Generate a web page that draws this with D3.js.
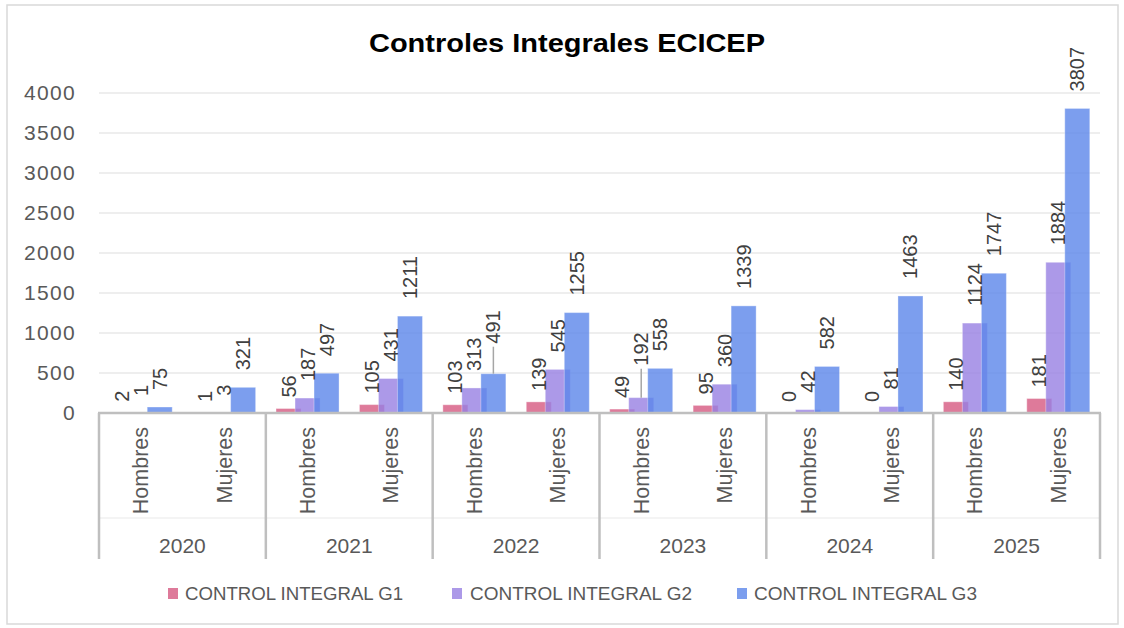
<!DOCTYPE html>
<html>
<head>
<meta charset="utf-8">
<script src="https://cdn.jsdelivr.net/npm/d3@7"></script>
<style>
  html, body { margin: 0; padding: 0; background: #ffffff; }
  svg { display: block; font-family: "Liberation Sans", Arial, sans-serif; }
</style>
</head>
<body>
<svg id="chart" width="1124" height="628"></svg>
<script>
// ---------- data ----------
const years = ["2020", "2021", "2022", "2023", "2024", "2025"];
const sexes = ["Hombres", "Mujeres"];
const seriesNames = ["CONTROL INTEGRAL G1", "CONTROL INTEGRAL G2", "CONTROL INTEGRAL G3"];
// order: 2020 H, 2020 M, 2021 H, 2021 M, ...
const g1Values = [2, 1, 56, 105, 103, 139, 49, 95, 0, 0, 140, 181];
const g2Values = [1, 3, 187, 431, 313, 545, 192, 360, 42, 81, 1124, 1884];
const g3Values = [75, 321, 497, 1211, 491, 1255, 558, 1339, 582, 1463, 1747, 3807];
const yTicks = [0, 500, 1000, 1500, 2000, 2500, 3000, 3500, 4000];
const titleText = "Controles Integrales ECICEP";

// ---------- style / layout ----------
const colors = ["#d65981", "#977fe2", "#5b86ea"];
const barOpacity = 0.8;
const labelGap = [11, 17, 17];
// labels that were dragged up in the original, with a leader line
const leaderLabels = [{ cat: 4, s: 2, lift: 13 }, { cat: 6, s: 1, lift: 15 }];

const svg = d3.select("#chart");
const plot = { left: 99, right: 1100, top: 93, bottom: 413 };

const categories = [];
years.forEach(y => sexes.forEach(s => categories.push({ year: y, sex: s, key: y + "|" + s })));
const seriesValues = [g1Values, g2Values, g3Values];

const x0 = d3.scaleBand().domain(categories.map(d => d.key)).range([plot.left, plot.right]).padding(0);
const x1 = d3.scalePoint().domain(d3.range(seriesNames.length)).range([-19, 19]);
const barW = x0.bandwidth() * 0.30;
const y = d3.scaleLinear().domain([0, 4000]).range([plot.bottom, plot.top]);

// outer frame
svg.append("rect").attr("x", 7).attr("y", 5).attr("width", 1111).attr("height", 619)
  .attr("fill", "#fff").attr("stroke", "#d9d9d9").attr("stroke-width", 1.5);

// title
svg.append("text").attr("x", 567).attr("y", 52).attr("text-anchor", "middle")
  .attr("font-weight", "bold").attr("font-size", 25).attr("fill", "#000")
  .attr("textLength", 396).attr("lengthAdjust", "spacingAndGlyphs")
  .text(titleText);

// gridlines
svg.append("g").selectAll("line").data(yTicks.filter(t => t > 0)).join("line")
  .attr("x1", plot.left).attr("x2", plot.right)
  .attr("y1", d => y(d)).attr("y2", d => y(d))
  .attr("stroke", "#e8e8e8").attr("stroke-width", 1.5);

// y axis
const yAxis = svg.append("g").attr("transform", `translate(${plot.left},0)`)
  .call(d3.axisLeft(y).tickValues(yTicks).tickSize(0).tickPadding(23).tickFormat(d3.format("d")));
yAxis.select(".domain").remove();
yAxis.selectAll("text").attr("font-size", 21).attr("fill", "#595959")
  .attr("font-family", "'Liberation Sans', Arial, sans-serif")
  .style("letter-spacing", "1.3px");

// bars
seriesValues.forEach((vals, s) => {
  svg.append("g").selectAll("rect").data(vals).join("rect")
    .attr("x", (d, i) => x0(categories[i].key) + x0.bandwidth() / 2 + x1(s) - barW / 2)
    .attr("y", d => y(d))
    .attr("width", barW)
    .attr("height", d => y(0) - y(d))
    .attr("fill", colors[s]).attr("fill-opacity", barOpacity)
    .attr("stroke", "#ffffff").attr("stroke-opacity", 0.35).attr("stroke-width", 1);
});

// category axis lines
const axisG = svg.append("g");
axisG.append("line").attr("x1", plot.left).attr("x2", plot.right)
  .attr("y1", 518).attr("y2", 518).attr("stroke", "#f0f0f0").attr("stroke-width", 1.5);
axisG.append("line").attr("x1", plot.left - 1).attr("x2", plot.right + 1)
  .attr("y1", plot.bottom).attr("y2", plot.bottom).attr("stroke", "#bfbfbf").attr("stroke-width", 2.5);
const dividers = years.map(yr => x0(yr + "|" + sexes[0])).concat([plot.right]);
axisG.selectAll("line.div").data(dividers).join("line").attr("class", "div")
  .attr("x1", d => d).attr("x2", d => d).attr("y1", plot.bottom).attr("y2", 559)
  .attr("stroke", "#bfbfbf").attr("stroke-width", 2.5);

// sex labels
svg.append("g").selectAll("text").data(categories).join("text")
  .attr("transform", d => `translate(${x0(d.key) + x0.bandwidth() / 2},427) rotate(-90)`)
  .attr("dy", "0.35em").attr("text-anchor", "end")
  .attr("font-size", 21.5).attr("fill", "#595959").text(d => d.sex);

// year labels
svg.append("g").selectAll("text").data(years).join("text")
  .attr("x", yr => x0(yr + "|" + sexes[0]) + x0.bandwidth())
  .attr("y", 553).attr("text-anchor", "middle")
  .attr("font-size", 21).attr("fill", "#595959").text(yr => yr);

// data labels
seriesValues.forEach((vals, s) => {
  const g = svg.append("g");
  vals.forEach((v, i) => {
    const cx = x0(categories[i].key) + x0.bandwidth() / 2 + x1(s);
    const nudge = leaderLabels.find(l => l.cat === i && l.s === s);
    const lift = nudge ? nudge.lift : 0;
    const ly = y(v) - labelGap[s] - lift;
    if (nudge) {
      g.append("line").attr("x1", cx).attr("x2", cx).attr("y1", y(v)).attr("y2", ly + 3)
        .attr("stroke", "#a6a6a6").attr("stroke-width", 1.5);
    }
    g.append("text").attr("transform", `translate(${cx},${ly}) rotate(-90)`)
      .attr("dy", "0.35em").attr("text-anchor", "start")
      .attr("font-size", 20).attr("fill", "#404040").text(v);
  });
});

// legend
const legendItems = [
  { sx: 168, tx: 185, tl: 218 },
  { sx: 452, tx: 470, tl: 222 },
  { sx: 737, tx: 754, tl: 223 }
];
const lg = svg.append("g");
seriesNames.forEach((name, s) => {
  lg.append("rect").attr("x", legendItems[s].sx).attr("y", 588).attr("width", 10).attr("height", 11)
    .attr("fill", colors[s]).attr("fill-opacity", barOpacity);
  lg.append("text").attr("x", legendItems[s].tx).attr("y", 600)
    .attr("font-size", 18.5).attr("fill", "#595959")
    .attr("textLength", legendItems[s].tl).attr("lengthAdjust", "spacingAndGlyphs")
    .text(name);
});
</script>
</body>
</html>
